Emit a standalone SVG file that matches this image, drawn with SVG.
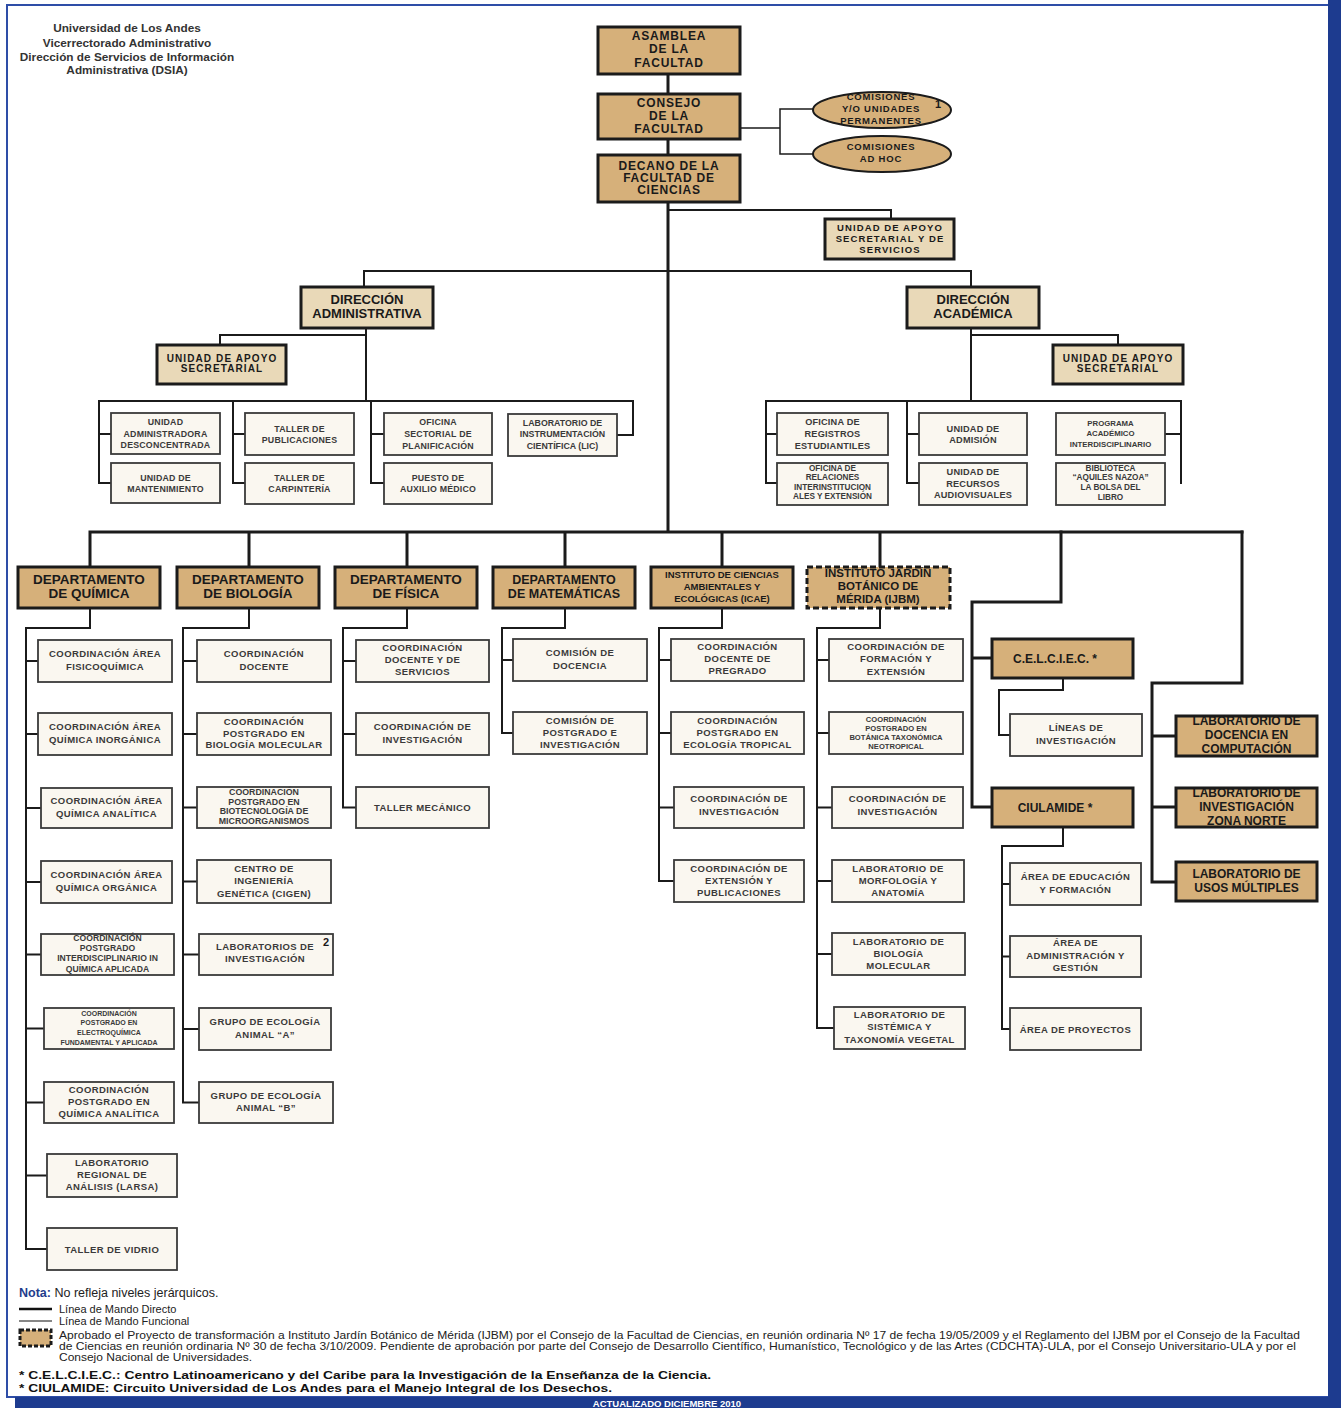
<svg xmlns="http://www.w3.org/2000/svg" width="1341" height="1408" viewBox="0 0 1341 1408">
<style>
text{font-family:"Liberation Sans",Arial,Helvetica,sans-serif;font-weight:bold;text-anchor:middle}
.tan{fill:#D6B07A;stroke:#1b1b1b;stroke-width:3}
.ltan{fill:#E9D9B8;stroke:#1b1b1b;stroke-width:3}
.crm{fill:#FAF7F0;stroke:#3a3a3a;stroke-width:1.8}
.dsh{fill:#D6B07A;stroke:#1b1b1b;stroke-width:3;stroke-dasharray:6 3}
.ell{fill:#D6B07A;stroke:#1b1b1b;stroke-width:2}
.tt{font-size:12px;letter-spacing:0.8px;fill:#1a1a1a}
.dt{font-size:13.5px;fill:#1a1a1a}
.dr{font-size:13px;fill:#1a1a1a}
.us{font-size:10px;letter-spacing:1.1px;fill:#1a1a1a}
.el{font-size:9.5px;letter-spacing:0.8px;fill:#1a1a1a}
.c{font-size:9.5px;letter-spacing:0.4px;fill:#3a3a3a}
.ca{font-size:8.8px;letter-spacing:0.2px;fill:#3a3a3a}
.c8{font-size:8.2px;fill:#3a3a3a}
.c7{font-size:7px;fill:#3a3a3a}
.lb{font-size:12px;fill:#1a1a1a}
.thk{stroke-width:3}
.med{stroke-width:2}
.thn{stroke-width:1.5}
.note{text-anchor:start;font-weight:normal;fill:#222}
</style>

<g id="frame">
<rect x="7" y="5" width="1322" height="1392" fill="none" stroke="#2E4DA7" stroke-width="2"/>
<rect x="1328" y="0" width="13" height="1408" fill="#1D3B8F"/>
<rect x="15" y="1397" width="1326" height="11" fill="#1D3B8F"/>
<text x="667" y="1406.5" style="font-size:9.5px;fill:#ffffff">ACTUALIZADO DICIEMBRE 2010</text>
</g>

<g id="header">
<text x="127" y="32" style="font-size:11.8px;fill:#333">Universidad de Los Andes</text>
<text x="127" y="46.5" style="font-size:11.8px;fill:#333">Vicerrectorado Administrativo</text>
<text x="127" y="60.5" style="font-size:11.8px;fill:#333">Dirección de Servicios de Información</text>
<text x="127" y="74" style="font-size:11.8px;fill:#333">Administrativa (DSIA)</text>
</g>

<g id="connectors" fill="none" stroke="#1b1b1b" stroke-linejoin="miter" stroke-linecap="square">
<path class="thk" d="M668,74V94M668,139V155M668,202V532M90,532H1242M90,532V567M249,532V567M407,532V567M565,532V567M722,532V567M880,532V567"/>
<path class="thk" d="M1061,532V602H972V807M972,658H992M972,807H992"/>
<path class="thk" d="M1242,532V683H1152V882M1152,736H1176M1152,807H1176M1152,882H1176"/>
<path class="thn" d="M740,128H780M780,109V154M780,109H813M780,154H813"/>
<path class="med" d="M668,210H891V219M364,287V271H971V287"/>
<path class="med" d="M366,328V401M366,335H220V345M99,401H633V435H617M99,401V483M99,434H111M99,483H111M233,401V483M233,434H245M233,483H245M371,401V483M371,434H384M371,483H384"/>
<path class="med" d="M971,328V401M971,335H1118V345M766,401H1181V483M766,401V483M766,434H777M766,483H777M907,401V483M907,434H919M907,483H919M1181,434H1165"/>
<path class="med" d="M90,608V628H26V1249M26,661H38M26,734H38M26,808H41M26,882H41M26,954.5H41M26,1028.5H44M26,1102.5H44M26,1175.5H47M26,1249H47"/>
<path class="med" d="M249,608V628H183V1102.5M183,661H197M183,734H197M183,807.5H197M183,881.5H197M183,954.5H199M183,1029H199M183,1102.5H199"/>
<path class="med" d="M407,608V628H343V807.5M343,661H356M343,734H356M343,807.5H356"/>
<path class="med" d="M565,608V628H502V733M502,660H513M502,733H513"/>
<path class="med" d="M722,608V628H659V881M659,660H671M659,733H671M659,807.5H674M659,881H674"/>
<path class="med" d="M880,608V628H817V1028M817,660H829M817,733H829M817,807.5H832M817,881H832M817,954H832M817,1028H834"/>
<path class="med" d="M1063,678V690H999V735H1010M1063,827V846H1002V1029M1002,884H1010M1002,956.5H1010M1002,1029H1010"/>
</g>

<g id="asamblea"><rect class="tan" x="598" y="27" width="142" height="47"/>
<text class="tt"><tspan x="669" y="39.5">ASAMBLEA</tspan><tspan x="669" y="53">DE  LA</tspan><tspan x="669" y="66.5">FACULTAD</tspan></text></g>
<g id="consejo"><rect class="tan" x="598" y="94" width="142" height="45"/>
<text class="tt"><tspan x="669" y="107">CONSEJO</tspan><tspan x="669" y="120">DE  LA</tspan><tspan x="669" y="133">FACULTAD</tspan></text></g>
<g id="decano"><rect class="tan" x="598" y="155" width="142" height="47"/>
<text class="tt"><tspan x="669" y="169.5">DECANO DE LA</tspan><tspan x="669" y="181.5">FACULTAD DE</tspan><tspan x="669" y="193.5">CIENCIAS</tspan></text></g>

<g id="comisiones-permanentes"><ellipse class="ell" cx="882" cy="110" rx="69" ry="18"/>
<text class="el"><tspan x="881" y="100">COMISIONES</tspan><tspan x="881" y="112">Y/O UNIDADES</tspan><tspan x="881" y="124">PERMANENTES</tspan></text>
<text x="938" y="108" style="font-size:11px;fill:#1a1a1a">1</text></g>
<g id="comisiones-adhoc"><ellipse class="ell" cx="882" cy="154" rx="69" ry="18"/>
<text class="el"><tspan x="881" y="150">COMISIONES</tspan><tspan x="881" y="161.5">AD HOC</tspan></text></g>

<g id="unidad-apoyo-servicios"><rect class="ltan" x="825" y="219" width="129" height="40"/>
<text class="us" style="font-size:9.5px"><tspan x="890" y="230.5">UNIDAD DE APOYO</tspan><tspan x="890" y="241.5">SECRETARIAL Y DE</tspan><tspan x="890" y="252.5">SERVICIOS</tspan></text></g>

<g id="direccion-administrativa"><rect class="ltan" x="301" y="287" width="132" height="41"/>
<text class="dr"><tspan x="367" y="303.5">DIRECCIÓN</tspan><tspan x="367" y="317.5">ADMINISTRATIVA</tspan></text></g>
<g id="direccion-academica"><rect class="ltan" x="907" y="287" width="132" height="41"/>
<text class="dr"><tspan x="973" y="303.5">DIRECCIÓN</tspan><tspan x="973" y="317.5">ACADÉMICA</tspan></text></g>

<g id="apoyo-sec-adm"><rect class="ltan" x="157" y="345" width="129" height="39"/>
<text class="us"><tspan x="222" y="361.5">UNIDAD DE APOYO</tspan><tspan x="222" y="371.5">SECRETARIAL</tspan></text></g>
<g id="apoyo-sec-acad"><rect class="ltan" x="1053" y="345" width="130" height="39"/>
<text class="us"><tspan x="1118" y="361.5">UNIDAD DE APOYO</tspan><tspan x="1118" y="371.5">SECRETARIAL</tspan></text></g>

<g id="unidad-administradora"><rect class="crm" x="111" y="413" width="109" height="41"/>
<text class="ca"><tspan x="165.5" y="425">UNIDAD</tspan><tspan x="165.5" y="436.5">ADMINISTRADORA</tspan><tspan x="165.5" y="448">DESCONCENTRADA</tspan></text></g>
<g id="unidad-mantenimiento"><rect class="crm" x="111" y="463" width="109" height="40"/>
<text class="ca"><tspan x="165.5" y="480.5">UNIDAD DE</tspan><tspan x="165.5" y="492">MANTENIMIENTO</tspan></text></g>
<g id="taller-publicaciones"><rect class="crm" x="245" y="413" width="109" height="42"/>
<text class="ca"><tspan x="299.5" y="431.5">TALLER DE</tspan><tspan x="299.5" y="443">PUBLICACIONES</tspan></text></g>
<g id="taller-carpinteria"><rect class="crm" x="245" y="463" width="109" height="41"/>
<text class="ca"><tspan x="299.5" y="480.5">TALLER DE</tspan><tspan x="299.5" y="492">CARPINTERÍA</tspan></text></g>
<g id="oficina-planificacion"><rect class="crm" x="384" y="413" width="108" height="42"/>
<text class="ca"><tspan x="438" y="424.5">OFICINA</tspan><tspan x="438" y="436.5">SECTORIAL DE</tspan><tspan x="438" y="448.5">PLANIFICACIÓN</tspan></text></g>
<g id="auxilio-medico"><rect class="crm" x="384" y="463" width="108" height="41"/>
<text class="ca"><tspan x="438" y="480.5">PUESTO DE</tspan><tspan x="438" y="492">AUXILIO MÉDICO</tspan></text></g>
<g id="lic"><rect class="crm" x="508" y="414" width="109" height="42"/>
<text class="ca" style="letter-spacing:0"><tspan x="562.5" y="425.5">LABORATORIO DE</tspan><tspan x="562.5" y="437">INSTRUMENTACIÓN</tspan><tspan x="562.5" y="449">CIENTÍFICA (LIC)</tspan></text></g>

<g id="registros"><rect class="crm" x="777" y="413" width="111" height="42"/>
<text class="ca" style="font-size:9.2px"><tspan x="832.5" y="424.5">OFICINA DE</tspan><tspan x="832.5" y="436.5">REGISTROS</tspan><tspan x="832.5" y="449">ESTUDIANTILES</tspan></text></g>
<g id="relaciones"><rect class="crm" x="777" y="463" width="111" height="42"/>
<text class="c8"><tspan x="832.5" y="471">OFICINA  DE</tspan><tspan x="832.5" y="480">RELACIONES</tspan><tspan x="832.5" y="489.5">INTERINSTITUCION</tspan><tspan x="832.5" y="499">ALES Y EXTENSIÓN</tspan></text></g>
<g id="admision"><rect class="crm" x="919" y="413" width="108" height="42"/>
<text class="ca" style="font-size:9.2px"><tspan x="973" y="431.5">UNIDAD DE</tspan><tspan x="973" y="443">ADMISIÓN</tspan></text></g>
<g id="audiovisuales"><rect class="crm" x="919" y="463" width="108" height="42"/>
<text class="ca" style="font-size:9.2px"><tspan x="973" y="475">UNIDAD DE</tspan><tspan x="973" y="486.5">RECURSOS</tspan><tspan x="973" y="498">AUDIOVISUALES</tspan></text></g>
<g id="programa-interdisciplinario"><rect class="crm" x="1056" y="413" width="109" height="42"/>
<text class="c8" style="font-size:7.8px"><tspan x="1110.5" y="426">PROGRAMA</tspan><tspan x="1110.5" y="436">ACADÉMICO</tspan><tspan x="1110.5" y="446.5">INTERDISCIPLINARIO</tspan></text></g>
<g id="biblioteca"><rect class="crm" x="1056" y="463" width="109" height="42"/>
<text class="c8"><tspan x="1110.5" y="471">BIBLIOTECA</tspan><tspan x="1110.5" y="480">“AQUILES NAZOA”</tspan><tspan x="1110.5" y="490">LA BOLSA DEL</tspan><tspan x="1110.5" y="499.5">LIBRO</tspan></text></g>

<g id="dep-quimica"><rect class="tan" x="18" y="567" width="142" height="41"/>
<text class="dt"><tspan x="89" y="583.5">DEPARTAMENTO</tspan><tspan x="89" y="597.5">DE QUÍMICA</tspan></text></g>
<g id="dep-biologia"><rect class="tan" x="177" y="567" width="142" height="41"/>
<text class="dt"><tspan x="248" y="583.5">DEPARTAMENTO</tspan><tspan x="248" y="597.5">DE BIOLOGÍA</tspan></text></g>
<g id="dep-fisica"><rect class="tan" x="335" y="567" width="142" height="41"/>
<text class="dt"><tspan x="406" y="583.5">DEPARTAMENTO</tspan><tspan x="406" y="597.5">DE FÍSICA</tspan></text></g>
<g id="dep-matematicas"><rect class="tan" x="493" y="567" width="142" height="41"/>
<text class="dt" style="font-size:12.5px"><tspan x="564" y="583.5">DEPARTAMENTO</tspan><tspan x="564" y="597.5">DE MATEMÁTICAS</tspan></text></g>
<g id="icae"><rect class="tan" x="651" y="567" width="142" height="41"/>
<text class="c" style="fill:#1a1a1a;letter-spacing:0"><tspan x="722" y="577.5">INSTITUTO DE CIENCIAS</tspan><tspan x="722" y="589.5">AMBIENTALES Y</tspan><tspan x="722" y="602">ECOLÓGICAS (ICAE)</tspan></text></g>
<g id="ijbm"><rect class="dsh" x="807" y="567" width="143" height="41"/>
<text class="dt" style="font-size:11.5px"><tspan x="878" y="577">INSTITUTO JARDÍN</tspan><tspan x="878" y="590">BOTÁNICO DE</tspan><tspan x="878" y="603">MÉRIDA (IJBM)</tspan></text></g>

<g id="q1"><rect class="crm" x="38" y="640" width="134" height="42"/>
<text class="c"><tspan x="105" y="657">COORDINACIÓN ÁREA</tspan><tspan x="105" y="669.5">FISICOQUÍMICA</tspan></text></g>
<g id="q2"><rect class="crm" x="38" y="713" width="134" height="42"/>
<text class="c"><tspan x="105" y="730">COORDINACIÓN ÁREA</tspan><tspan x="105" y="742.5">QUÍMICA INORGÁNICA</tspan></text></g>
<g id="q3"><rect class="crm" x="41" y="788" width="131" height="40"/>
<text class="c"><tspan x="106.5" y="804">COORDINACIÓN ÁREA</tspan><tspan x="106.5" y="816.5">QUÍMICA ANALÍTICA</tspan></text></g>
<g id="q4"><rect class="crm" x="41" y="861" width="131" height="42"/>
<text class="c"><tspan x="106.5" y="878">COORDINACIÓN ÁREA</tspan><tspan x="106.5" y="890.5">QUÍMICA ORGÁNICA</tspan></text></g>
<g id="q5"><rect class="crm" x="41" y="934" width="133" height="41"/>
<text class="c8" style="font-size:8.6px"><tspan x="107.5" y="941">COORDINACIÓN</tspan><tspan x="107.5" y="951">POSTGRADO</tspan><tspan x="107.5" y="961">INTERDISCIPLINARIO IN</tspan><tspan x="107.5" y="971.5">QUÍMICA APLICADA</tspan></text></g>
<g id="q6"><rect class="crm" x="44" y="1008" width="130" height="41"/>
<text class="c7"><tspan x="109" y="1015.5">COORDINACIÓN</tspan><tspan x="109" y="1025">POSTGRADO EN</tspan><tspan x="109" y="1035">ELECTROQUÍMICA</tspan><tspan x="109" y="1044.5">FUNDAMENTAL Y APLICADA</tspan></text></g>
<g id="q7"><rect class="crm" x="44" y="1082" width="130" height="41"/>
<text class="c"><tspan x="109" y="1092.5">COORDINACIÓN</tspan><tspan x="109" y="1104.5">POSTGRADO EN</tspan><tspan x="109" y="1116.5">QUÍMICA ANALÍTICA</tspan></text></g>
<g id="q8"><rect class="crm" x="47" y="1154" width="130" height="43"/>
<text class="c"><tspan x="112" y="1165.5">LABORATORIO</tspan><tspan x="112" y="1177.5">REGIONAL DE</tspan><tspan x="112" y="1190">ANÁLISIS (LARSA)</tspan></text></g>
<g id="q9"><rect class="crm" x="47" y="1228" width="130" height="42"/>
<text class="c"><tspan x="112" y="1252.5">TALLER DE VIDRIO</tspan></text></g>

<g id="b1"><rect class="crm" x="197" y="640" width="134" height="42"/>
<text class="c"><tspan x="264" y="657">COORDINACIÓN</tspan><tspan x="264" y="669.5">DOCENTE</tspan></text></g>
<g id="b2"><rect class="crm" x="197" y="713" width="134" height="42"/>
<text class="c"><tspan x="264" y="725">COORDINACIÓN</tspan><tspan x="264" y="736.5">POSTGRADO EN</tspan><tspan x="264" y="748">BIOLOGÍA MOLECULAR</tspan></text></g>
<g id="b3"><rect class="crm" x="197" y="787" width="134" height="41"/>
<text class="c8" style="font-size:8.8px"><tspan x="264" y="795">COORDINACIÓN</tspan><tspan x="264" y="804.5">POSTGRADO EN</tspan><tspan x="264" y="814">BIOTECNOLOGÍA DE</tspan><tspan x="264" y="823.5">MICROORGANISMOS</tspan></text></g>
<g id="b4"><rect class="crm" x="197" y="860" width="134" height="43"/>
<text class="c"><tspan x="264" y="871.5">CENTRO DE</tspan><tspan x="264" y="884">INGENIERÍA</tspan><tspan x="264" y="896.5">GENÉTICA (CIGEN)</tspan></text></g>
<g id="b5"><rect class="crm" x="199" y="934" width="134" height="41"/>
<text class="c"><tspan x="265" y="950">LABORATORIOS DE</tspan><tspan x="265" y="961.5">INVESTIGACIÓN</tspan></text>
<text x="326" y="946" style="font-size:11px;fill:#1a1a1a">2</text></g>
<g id="b6"><rect class="crm" x="199" y="1008" width="132" height="42"/>
<text class="c"><tspan x="265" y="1025">GRUPO DE ECOLOGÍA</tspan><tspan x="265" y="1038">ANIMAL “A”</tspan></text></g>
<g id="b7"><rect class="crm" x="199" y="1082" width="134" height="41"/>
<text class="c"><tspan x="266" y="1099">GRUPO DE ECOLOGÍA</tspan><tspan x="266" y="1110.5">ANIMAL “B”</tspan></text></g>

<g id="f1"><rect class="crm" x="356" y="640" width="133" height="42"/>
<text class="c"><tspan x="422.5" y="650.5">COORDINACIÓN</tspan><tspan x="422.5" y="662.5">DOCENTE Y DE</tspan><tspan x="422.5" y="675">SERVICIOS</tspan></text></g>
<g id="f2"><rect class="crm" x="356" y="713" width="133" height="42"/>
<text class="c"><tspan x="422.5" y="730">COORDINACIÓN DE</tspan><tspan x="422.5" y="742.5">INVESTIGACIÓN</tspan></text></g>
<g id="f3"><rect class="crm" x="356" y="787" width="133" height="41"/>
<text class="c"><tspan x="422.5" y="810.5">TALLER MECÁNICO</tspan></text></g>

<g id="m1"><rect class="crm" x="513" y="639" width="134" height="42"/>
<text class="c"><tspan x="580" y="656">COMISIÓN DE</tspan><tspan x="580" y="668.5">DOCENCIA</tspan></text></g>
<g id="m2"><rect class="crm" x="513" y="712" width="134" height="42"/>
<text class="c"><tspan x="580" y="724">COMISIÓN DE</tspan><tspan x="580" y="736">POSTGRADO E</tspan><tspan x="580" y="748">INVESTIGACIÓN</tspan></text></g>

<g id="i1"><rect class="crm" x="671" y="639" width="133" height="42"/>
<text class="c"><tspan x="737.5" y="650">COORDINACIÓN</tspan><tspan x="737.5" y="662">DOCENTE DE</tspan><tspan x="737.5" y="674">PREGRADO</tspan></text></g>
<g id="i2"><rect class="crm" x="671" y="712" width="133" height="42"/>
<text class="c"><tspan x="737.5" y="723.5">COORDINACIÓN</tspan><tspan x="737.5" y="735.5">POSTGRADO EN</tspan><tspan x="737.5" y="747.5">ECOLOGÍA TROPICAL</tspan></text></g>
<g id="i3"><rect class="crm" x="674" y="787" width="130" height="41"/>
<text class="c"><tspan x="739" y="802">COORDINACIÓN DE</tspan><tspan x="739" y="814.5">INVESTIGACIÓN</tspan></text></g>
<g id="i4"><rect class="crm" x="674" y="860" width="130" height="42"/>
<text class="c"><tspan x="739" y="872">COORDINACIÓN DE</tspan><tspan x="739" y="884">EXTENSIÓN Y</tspan><tspan x="739" y="896">PUBLICACIONES</tspan></text></g>

<g id="j1"><rect class="crm" x="829" y="639" width="134" height="42"/>
<text class="c"><tspan x="896" y="650">COORDINACIÓN DE</tspan><tspan x="896" y="662">FORMACIÓN Y</tspan><tspan x="896" y="674.5">EXTENSIÓN</tspan></text></g>
<g id="j2"><rect class="crm" x="829" y="712" width="134" height="42"/>
<text class="c7" style="font-size:7.6px"><tspan x="896" y="722">COORDINACIÓN</tspan><tspan x="896" y="731">POSTGRADO EN</tspan><tspan x="896" y="740">BOTÁNICA TAXONÓMICA</tspan><tspan x="896" y="749">NEOTROPICAL</tspan></text></g>
<g id="j3"><rect class="crm" x="832" y="787" width="131" height="41"/>
<text class="c"><tspan x="897.5" y="802">COORDINACIÓN DE</tspan><tspan x="897.5" y="814.5">INVESTIGACIÓN</tspan></text></g>
<g id="j4"><rect class="crm" x="832" y="860" width="132" height="42"/>
<text class="c"><tspan x="898" y="872">LABORATORIO DE</tspan><tspan x="898" y="884">MORFOLOGÍA Y</tspan><tspan x="898" y="896">ANATOMÍA</tspan></text></g>
<g id="j5"><rect class="crm" x="832" y="933" width="133" height="42"/>
<text class="c"><tspan x="898.5" y="945">LABORATORIO DE</tspan><tspan x="898.5" y="957">BIOLOGÍA</tspan><tspan x="898.5" y="969">MOLECULAR</tspan></text></g>
<g id="j6"><rect class="crm" x="834" y="1007" width="131" height="42"/>
<text class="c"><tspan x="899.5" y="1018">LABORATORIO DE</tspan><tspan x="899.5" y="1030">SISTÉMICA Y</tspan><tspan x="899.5" y="1042.5">TAXONOMÍA VEGETAL</tspan></text></g>

<g id="celciec"><rect class="tan" x="992" y="639" width="141" height="39"/>
<text class="lb" x="1055" y="662.5">C.E.L.C.I.E.C.  *</text></g>
<g id="lineas"><rect class="crm" x="1010" y="714" width="132" height="42"/>
<text class="c"><tspan x="1076" y="731">LÍNEAS DE</tspan><tspan x="1076" y="743.5">INVESTIGACIÓN</tspan></text></g>
<g id="ciulamide"><rect class="tan" x="992" y="788" width="141" height="39"/>
<text class="lb" x="1055" y="811.5">CIULAMIDE  *</text></g>
<g id="area-educacion"><rect class="crm" x="1010" y="863" width="131" height="42"/>
<text class="c"><tspan x="1075.5" y="880">ÁREA DE EDUCACIÓN</tspan><tspan x="1075.5" y="892.5">Y FORMACIÓN</tspan></text></g>
<g id="area-administracion"><rect class="crm" x="1010" y="936" width="131" height="41"/>
<text class="c"><tspan x="1075.5" y="946">ÁREA DE</tspan><tspan x="1075.5" y="958.5">ADMINISTRACIÓN Y</tspan><tspan x="1075.5" y="971">GESTIÓN</tspan></text></g>
<g id="area-proyectos"><rect class="crm" x="1010" y="1008" width="131" height="42"/>
<text class="c"><tspan x="1075.5" y="1032.5">ÁREA DE PROYECTOS</tspan></text></g>

<g id="lab-computacion"><rect class="tan" x="1176" y="716" width="141" height="40"/>
<text class="lb"><tspan x="1246.5" y="725">LABORATORIO DE</tspan><tspan x="1246.5" y="739">DOCENCIA EN</tspan><tspan x="1246.5" y="752.5">COMPUTACIÓN</tspan></text></g>
<g id="lab-zona-norte"><rect class="tan" x="1176" y="788" width="141" height="39"/>
<text class="lb"><tspan x="1246.5" y="797">LABORATORIO DE</tspan><tspan x="1246.5" y="811">INVESTIGACIÓN</tspan><tspan x="1246.5" y="824.5">ZONA NORTE</tspan></text></g>
<g id="lab-usos"><rect class="tan" x="1176" y="862" width="141" height="39"/>
<text class="lb"><tspan x="1246.5" y="878">LABORATORIO DE</tspan><tspan x="1246.5" y="892">USOS MÚLTIPLES</tspan></text></g>

<g id="notes">
<text class="note" x="19" y="1297" style="font-size:12.5px"><tspan style="font-weight:bold;fill:#1F3D8C">Nota:</tspan> No refleja niveles jerárquicos.</text>
<line x1="19" y1="1309" x2="52" y2="1309" stroke="#111" stroke-width="2.5"/>
<text class="note" x="59" y="1313" style="font-size:11px">Línea de Mando Directo</text>
<line x1="19" y1="1321" x2="52" y2="1321" stroke="#111" stroke-width="1.2"/>
<text class="note" x="59" y="1325" style="font-size:11px">Línea de Mando Funcional</text>
<rect x="20" y="1330" width="31" height="16" fill="#D6B07A" stroke="#1b1b1b" stroke-width="3" stroke-dasharray="4 2"/>
<text class="note" x="59" y="1339" style="font-size:10.5px" textLength="1241" lengthAdjust="spacingAndGlyphs">Aprobado el Proyecto de transformación a Instituto Jardín Botánico de Mérida (IJBM) por el Consejo de la Facultad de Ciencias, en reunión ordinaria Nº 17 de fecha 19/05/2009 y el Reglamento del IJBM por el Consejo de la Facultad</text>
<text class="note" x="59" y="1350" style="font-size:10.5px" textLength="1237" lengthAdjust="spacingAndGlyphs">de Ciencias en reunión ordinaria Nº 30 de fecha 3/10/2009. Pendiente de aprobación por parte del Consejo de Desarrollo Científico, Humanístico, Tecnológico y de las Artes (CDCHTA)-ULA, por el Consejo Universitario-ULA y por el</text>
<text class="note" x="59" y="1361" style="font-size:10.5px" textLength="193" lengthAdjust="spacingAndGlyphs">Consejo Nacional de Universidades.</text>
<text x="19" y="1379" style="font-size:11.5px;text-anchor:start;fill:#111" textLength="692" lengthAdjust="spacingAndGlyphs">* C.E.L.C.I.E.C.: Centro Latinoamericano y del Caribe para la Investigación de la Enseñanza de la Ciencia.</text>
<text x="19" y="1392" style="font-size:11.5px;text-anchor:start;fill:#111" textLength="593" lengthAdjust="spacingAndGlyphs">* CIULAMIDE: Circuito Universidad de Los Andes para el Manejo Integral de los Desechos.</text>
</g>
</svg>
